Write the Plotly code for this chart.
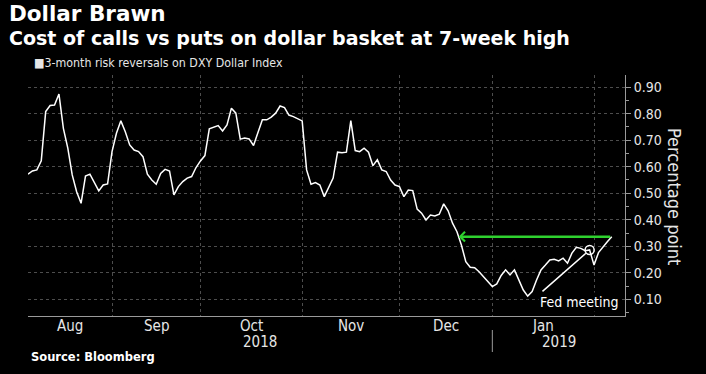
import numpy as np
import pandas as pd
import plotly.graph_objects as go

# ---------------- data ----------------
# 3-month risk reversals on DXY, one value per business day
AUG = [0.572, 0.584, 0.588, 0.622, 0.808, 0.831, 0.833, 0.874, 0.745, 0.670,
       0.569, 0.506, 0.462, 0.565, 0.572, 0.541, 0.509, 0.531, 0.535]
SEP = [0.657, 0.726, 0.773, 0.732, 0.682, 0.663, 0.657, 0.638, 0.572, 0.550,
       0.534, 0.575, 0.590, 0.584, 0.494, 0.525, 0.544, 0.557, 0.563, 0.597]
OCT = [0.622, 0.642, 0.743, 0.748, 0.755, 0.735, 0.758, 0.821, 0.802, 0.704,
       0.708, 0.705, 0.680, 0.729, 0.777, 0.777, 0.787, 0.802, 0.829, 0.823,
       0.795, 0.789, 0.780]
NOV = [0.773, 0.588, 0.534, 0.540, 0.531, 0.487, 0.519, 0.557, 0.655, 0.653,
       0.655, 0.774, 0.661, 0.657, 0.670, 0.655, 0.604, 0.626, 0.588, 0.582,
       0.550, 0.531]
DEC = [0.525, 0.487, 0.512, 0.510, 0.440, 0.425, 0.399, 0.418, 0.414, 0.421,
       0.460, 0.434, 0.387, 0.355, 0.305, 0.242, 0.221, 0.219, 0.204, 0.185,
       0.166]
JAN = [0.148, 0.158, 0.190, 0.211, 0.192, 0.211, 0.175, 0.135, 0.112, 0.129,
       0.173, 0.211, 0.229, 0.248, 0.251, 0.245, 0.255, 0.236, 0.274, 0.296,
       0.292, 0.283, 0.286]
FEB = [0.229, 0.276, 0.298, 0.317, 0.336]

START_DATE = "2018-08-07"
AXIS_END_DATE = "2019-02-12"
FED_DATE = "2019-01-31"
FED_LINE_FROM = ("2019-01-16", 0.125)

MONTH_LABELS = ["Aug", "Sep", "Oct", "Nov", "Dec", "Jan"]
YEAR_LABELS = ["2018", "2019"]
Y_TICKS = [0.10, 0.20, 0.30, 0.40, 0.50, 0.60, 0.70, 0.80, 0.90]
Y_RANGE = [0.037, 0.946]

TITLE = "Dollar Brawn"
SUBTITLE = "Cost of calls vs puts on dollar basket at 7-week high"
LEGEND = "\u25A03-month risk reversals on DXY Dollar Index"
SOURCE = "Source: Bloomberg"
Y_TITLE = "Percentage point"
FED_TEXT = "Fed meeting"

# ---------------- build ----------------
values = AUG + SEP + OCT + NOV + DEC + JAN + FEB
dates = pd.bdate_range(START_DATE, periods=len(values))
cal = pd.bdate_range(START_DATE, AXIS_END_DATE)
x = cal.get_indexer(dates)

periods = cal.to_period("M")
month_starts = [int(np.argmax(periods == p)) for p in periods.unique()]
boundaries = [i for i in month_starts if i > 0]
x_end = len(cal) - 1

W, H = 706, 374
L, R, T, B = 28, 81, 75, 58
PW, PH = W - L - R, H - T - B


def px(v):
    return (v - L) / PW


def py(v):
    return (H - B - v) / PH


BG = "#000000"
TXT = "#e6e6e6"
GRID = "#4d4d4d"
AXIS = "#9a9a9a"
GREEN = "#2fd12f"
COND = "DejaVu Sans Condensed, DejaVu Sans, sans-serif"
SANS = "DejaVu Sans, sans-serif"

fig = go.Figure()
fig.add_trace(go.Scatter(x=x, y=values, mode="lines",
                         line=dict(color="white", width=1.5),
                         hoverinfo="skip", showlegend=False))

fed_i = dates.get_loc(pd.Timestamp(FED_DATE))
fig.add_trace(go.Scatter(x=[x[fed_i]], y=[values[fed_i]], mode="markers",
                         marker=dict(symbol="circle-open", size=9, color="white",
                                     line=dict(width=1.5, color="white")),
                         hoverinfo="skip", showlegend=False))

# green arrow: back to the last time the series stood at today's level
last = values[-1]
j = max(i for i in range(len(values) - 1) if values[i] >= last)
frac = (values[j] - last) / (values[j] - values[j + 1])
tip_x = x[j] + frac * (x[j + 1] - x[j])

annotations = [
    dict(x=tip_x, y=last, ax=x[-1], ay=last, xref="x", yref="y", axref="x", ayref="y",
         text="", showarrow=True, arrowhead=4, arrowsize=0.75, arrowwidth=2.5,
         arrowcolor=GREEN, standoff=0),
    dict(x=x[fed_i], y=values[fed_i],
         ax=cal.get_loc(pd.Timestamp(FED_LINE_FROM[0])), ay=FED_LINE_FROM[1],
         xref="x", yref="y", axref="x", ayref="y", text="", showarrow=True,
         arrowhead=0, arrowwidth=1.5, arrowcolor="white", standoff=5),
    dict(x=px(579), y=py(302), xref="paper", yref="paper", text=FED_TEXT,
         showarrow=False, xanchor="center", yanchor="middle", bgcolor=BG,
         font=dict(family=COND, size=14, color="white")),
    dict(x=px(7), y=py(13), xref="paper", yref="paper", text="<b>" + TITLE + "</b>",
         showarrow=False, xanchor="left", yanchor="middle",
         font=dict(family=SANS, size=21.5, color="white")),
    dict(x=px(7), y=py(38), xref="paper", yref="paper", text="<b>" + SUBTITLE + "</b>",
         showarrow=False, xanchor="left", yanchor="middle",
         font=dict(family=SANS, size=19, color="white")),
    dict(x=px(32), y=py(63), xref="paper", yref="paper", text=LEGEND,
         showarrow=False, xanchor="left", yanchor="middle",
         font=dict(family=COND, size=12.3, color=TXT)),
    dict(x=px(29), y=py(357), xref="paper", yref="paper", text="<b>" + SOURCE + "</b>",
         showarrow=False, xanchor="left", yanchor="middle",
         font=dict(family=SANS, size=11.5, color="white")),
    dict(x=px(675), y=py(196), xref="paper", yref="paper", text=Y_TITLE,
         showarrow=False, textangle=90, xanchor="center", yanchor="middle",
         font=dict(family=COND, size=18, color=TXT)),
]

edges = [0] + boundaries
for k, lab in enumerate(MONTH_LABELS):
    centre = (edges[k] + edges[k + 1]) / 2
    annotations.append(dict(x=centre, y=py(326), xref="x", yref="paper", text=lab,
                            showarrow=False, xanchor="center", yanchor="middle",
                            font=dict(family=COND, size=15, color=TXT)))

year_start = [i for i in month_starts if cal[i].month == 1][0]
year_edges = [0, year_start, x_end]
for k, lab in enumerate(YEAR_LABELS):
    centre = (year_edges[k] + year_edges[k + 1]) / 2
    annotations.append(dict(x=centre, y=py(342), xref="x", yref="paper", text=lab,
                            showarrow=False, xanchor="center", yanchor="middle",
                            font=dict(family=COND, size=15, color=TXT)))

shapes = [dict(type="line", xref="x", yref="paper", x0=year_start, x1=year_start,
               y0=py(330), y1=py(352), line=dict(color=AXIS, width=1))]

fig.update_layout(
    width=W, height=H,
    margin=dict(l=L, r=R, t=T, b=B, autoexpand=False),
    paper_bgcolor=BG, plot_bgcolor=BG,
    showlegend=False, hovermode=False,
    annotations=annotations, shapes=shapes,
    xaxis=dict(range=[0, x_end], tickvals=boundaries, showticklabels=False,
               showgrid=True, gridcolor=GRID, griddash="dot", gridwidth=1,
               showline=True, linecolor=AXIS, linewidth=1, ticks="",
               zeroline=False, fixedrange=True),
    yaxis=dict(side="right", range=Y_RANGE, tickvals=Y_TICKS, tickformat=".2f",
               showgrid=True, gridcolor=GRID, griddash="dot", gridwidth=1,
               showline=True, linecolor=AXIS, linewidth=1,
               ticks="outside", ticklen=5, tickcolor=AXIS,
               tickfont=dict(family=COND, size=14, color=TXT),
               minor=dict(dtick=0.05, tick0=0.05, ticks="outside", ticklen=3,
                          tickcolor=AXIS, showgrid=False),
               zeroline=False, fixedrange=True),
)

fig.write_html(
    "out.html",
    config={"displayModeBar": False},
    post_script="document.body.style.margin='0';document.body.style.background='#000';",
)
